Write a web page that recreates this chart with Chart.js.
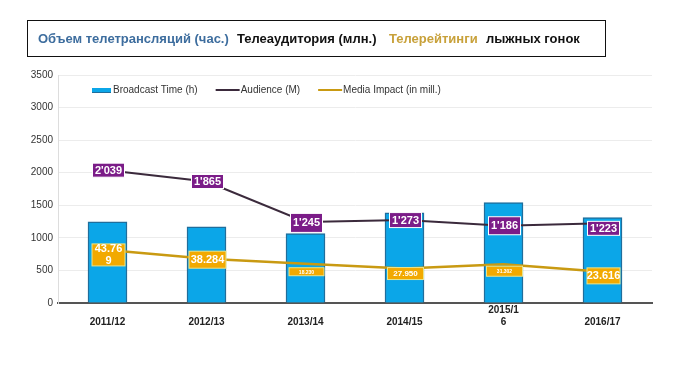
<!DOCTYPE html>
<html>
<head>
<meta charset="utf-8">
<script src="https://cdn.jsdelivr.net/npm/chart.js@4.4.1/dist/chart.umd.min.js"></script>
<style>
  html, body { margin: 0; padding: 0; background: #fff; }
  #wrap { position: relative; width: 675px; height: 373px; }
  #title {
    position: absolute; left: 27px; top: 20px; width: 579px; height: 37px;
    border: 1.5px solid #111; box-sizing: border-box;
    font: bold 13px "Liberation Sans Narrow", "Liberation Sans", Arial, sans-serif;
  }
  #title span { position: absolute; top: 10px; white-space: nowrap; }
  canvas { position: absolute; left: 0; top: 0; }
</style>
</head>
<body>
<div id="wrap">
  <canvas id="chart" width="675" height="373"></canvas>
  <div id="title">
    <span style="left:10px;color:#3d6d9e">Объем телетрансляций (час.)</span>
    <span style="left:209px;color:#111">Телеаудитория (млн.)</span>
    <span style="left:361px;color:#c8a13a">Телерейтинги</span>
    <span style="left:458px;color:#111">лыжных гонок</span>
  </div>
</div>
<script>
// data
const categories = ["2011/12", "2012/13", "2013/14", "2014/15", "2015/16", "2016/17"];
const tickLabels = [["", "2011/12"], ["", "2012/13"], ["", "2013/14"], ["", "2014/15"], ["2015/1", "6"], ["", "2016/17"]];
const broadcastTime = [1245, 1170, 1065, 1385, 1540, 1310];
const audience = [2039, 1865, 1245, 1273, 1186, 1223];
const mediaImpact = [815, 680, 603, 529, 595, 478];
const audienceLabels = ["2'039", "1'865", "1'245", "1'273", "1'186", "1'223"];
const impactLabels = [["43.76", "9"], ["38.284"], ["18.230"], ["27.950"], ["31.302"], ["23.616"]];
const yTicks = [0, 500, 1000, 1500, 2000, 2500, 3000, 3500];

// label box styling per point (dy = shift from the point, fs = font size, h = box height)
const audienceBox = [
  { dy: 0, h: 14 }, { dy: 0, h: 14 }, { dy: 1, h: 19 }, { dy: 0, h: 15 }, { dy: 0, h: 18 }, { dy: 5, h: 14 }
];
const impactBox = [
  { dy: 5, fs: 11, h: 22, w: 33 }, { dy: 1, fs: 11, h: 17, w: 37 }, { dy: 8, fs: 5, h: 8, w: 35 },
  { dy: 5, fs: 8, h: 12, w: 36 }, { dy: 7, fs: 5, h: 10, w: 36 }, { dy: 4, fs: 11, h: 16, w: 33 }
];

const valueBoxes = {
  id: "valueBoxes",
  afterDatasetsDraw(chart) {
    const ctx = chart.ctx;
    ctx.save();
    ctx.textAlign = "center";
    ctx.textBaseline = "middle";
    // audience boxes
    chart.getDatasetMeta(1).data.forEach((pt, i) => {
      const b = audienceBox[i];
      const w = 32, h = b.h;
      const cx = pt.x + 1, cy = pt.y + b.dy;
      ctx.fillStyle = "#7b1c88";
      ctx.fillRect(cx - w / 2, cy - h / 2, w, h);
      ctx.strokeStyle = "#ffffff";
      ctx.lineWidth = 1;
      ctx.strokeRect(cx - w / 2, cy - h / 2, w, h);
      ctx.fillStyle = "#ffffff";
      ctx.font = "bold 11px 'Liberation Sans', Arial, sans-serif";
      ctx.fillText(audienceLabels[i], cx, cy + 0.5);
    });
    // media impact boxes
    chart.getDatasetMeta(2).data.forEach((pt, i) => {
      const b = impactBox[i];
      const cx = pt.x + 1, cy = pt.y + b.dy;
      ctx.fillStyle = "#f2a900";
      ctx.fillRect(cx - b.w / 2, cy - b.h / 2, b.w, b.h);
      ctx.strokeStyle = "#e9e48c";
      ctx.lineWidth = 1;
      ctx.strokeRect(cx - b.w / 2, cy - b.h / 2, b.w, b.h);
      ctx.fillStyle = "#ffffff";
      ctx.font = "bold " + b.fs + "px 'Liberation Sans', Arial, sans-serif";
      const lines = impactLabels[i];
      const lh = b.fs + 1;
      lines.forEach((t, k) => {
        ctx.fillText(t, cx, cy + (k - (lines.length - 1) / 2) * lh + 0.5);
      });
    });
    ctx.restore();
  }
};

const innerLegend = {
  id: "innerLegend",
  afterDraw(chart) {
    const ctx = chart.ctx;
    const area = chart.chartArea;
    let x = area.left + 34;
    const y = area.top + 15;
    ctx.save();
    ctx.font = "10px 'Liberation Sans', Arial, sans-serif";
    ctx.textBaseline = "middle";
    chart.data.datasets.forEach((ds, i) => {
      if (i === 0) {
        ctx.fillStyle = ds.backgroundColor;
        ctx.fillRect(x, y - 2, 19, 5);
        ctx.fillStyle = ds.borderColor;
        ctx.fillRect(x, y + 2, 19, 1);
        x += 21;
      } else {
        ctx.strokeStyle = ds.borderColor;
        ctx.lineWidth = 2;
        ctx.beginPath();
        ctx.moveTo(x, y);
        ctx.lineTo(x + 24, y);
        ctx.stroke();
        x += 25;
      }
      ctx.fillStyle = "#333";
      ctx.fillText(ds.label, x, y);
      x += ctx.measureText(ds.label).width + 18;
    });
    ctx.restore();
  }
};

const ctx = document.getElementById("chart").getContext("2d");
new Chart(ctx, {
  type: "bar",
  data: {
    labels: tickLabels,
    datasets: [
      {
        type: "bar",
        label: "Broadcast Time (h)",
        data: broadcastTime,
        backgroundColor: "#0ba6e8",
        borderColor: "#1f6e9c",
        borderWidth: 1.5,
        barThickness: 39,
        order: 3,
      },
      {
        type: "line",
        label: "Audience (M)",
        data: audience,
        borderColor: "#3b2a3c",
        borderWidth: 2,
        pointRadius: 0,
        tension: 0,
        order: 2,
      },
      {
        type: "line",
        label: "Media Impact (in mill.)",
        data: mediaImpact,
        borderColor: "#c99a12",
        borderWidth: 2.5,
        pointRadius: 0,
        tension: 0,
        order: 1,
      },
    ],
  },
  options: {
    responsive: false,
    animation: false,
    layout: { padding: { top: 75, right: 23, left: 0, bottom: 0 } },
    plugins: {
      legend: { display: false },
      tooltip: { enabled: false },
    },
    scales: {
      x: {
        grid: { display: false, drawTicks: false },
        border: { color: "#555", width: 2 },
        ticks: {
          autoSkip: false,
          maxRotation: 0,
          padding: 1,
          color: "#222",
          font: { family: "'Liberation Sans', Arial, sans-serif", size: 10, weight: "bold", lineHeight: 1.2 },
        },
        afterFit(scale) { scale.height = 70; },
      },
      y: {
        min: 0,
        max: 3500,
        afterBuildTicks(scale) { scale.ticks = yTicks.map(v => ({ value: v })); },
        grid: { color: "#ececec", drawTicks: false },
        border: { color: "#dddddd", width: 1 },
        ticks: {
          padding: 5,
          color: "#333",
          font: { family: "'Liberation Sans', Arial, sans-serif", size: 10 },
          callback: (v) => String(v),
        },
        afterFit(scale) { scale.width = 58; },
      },
    },
  },
  plugins: [valueBoxes, innerLegend],
});
</script>
</body>
</html>
